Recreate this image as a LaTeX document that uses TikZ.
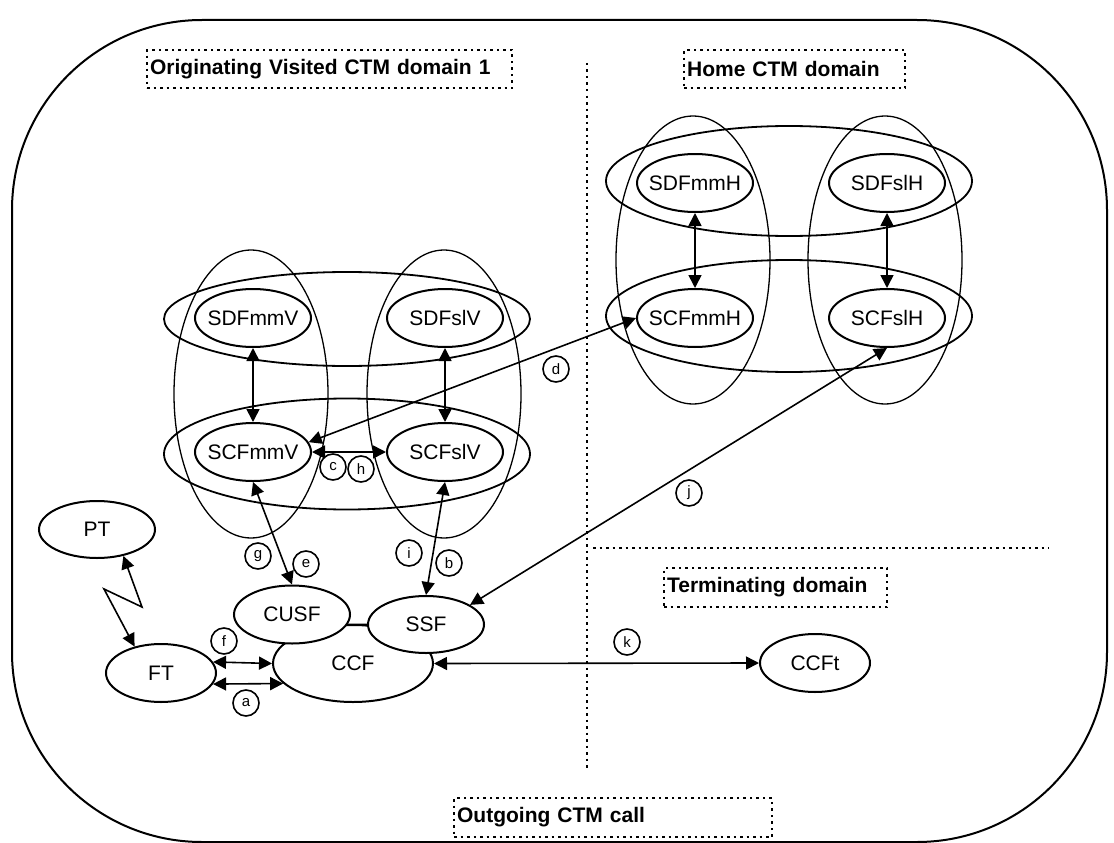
\documentclass[tikz,border=0pt]{standalone}
\usepackage{fontspec}
\setmainfont{Liberation Sans}
\usetikzlibrary{shapes.geometric,arrows.meta}
\newcommand\zw[1]{\makebox[0pt]{#1}}

\begin{document}
\begin{tikzpicture}[x=1pt,y=-1pt,
  fn/.style={ellipse, draw, line width=2pt, fill=white, inner sep=0pt,
             font=\fontsize{21}{24}\selectfont},
  sz/.style 2 args={minimum width=#1pt, minimum height=#2pt},
  grph/.style={ellipse, draw, inner sep=0pt, line width=1.8pt},
  grpv/.style={ellipse, draw, inner sep=0pt, line width=1.3pt},
  tag/.style={circle, draw, line width=1.6pt, minimum size=26pt, inner sep=0pt,
              font=\fontsize{15}{17}\selectfont},
  hdr/.style={draw, line width=2.2pt, dash pattern=on 2.5pt off 4pt,
              anchor=north west, inner xsep=3pt, inner ysep=0pt, align=left,
              font=\bfseries\fontsize{21}{24}\selectfont},
  link/.style={line width=1.6pt,
               {Triangle[length=13pt,width=13pt]}-{Triangle[length=13pt,width=13pt]}},
  sepline/.style={line width=2.2pt, dash pattern=on 2.5pt off 4pt},
]
\useasboundingbox (0,0) rectangle (1114,843);

% outer frame
\draw[line width=2pt, rounded corners=190pt] (12,20) rectangle (1107,842);

% domain separators
\coordinate (vtop) at (587,63);
\coordinate (vbot) at (587,768);
\coordinate (hl) at (593,548);
\coordinate (hr) at (1049,548);
\draw[sepline] (vtop) -- (vbot);
\draw[sepline] (hl) -- (hr);

% domain titles
\node[hdr, minimum width=365pt, minimum height=38pt, text width=359pt] (orig) at (146,49) {Originating Visited CTM domain 1};
\node[hdr, minimum width=221pt, minimum height=38pt, text width=215pt] (home) at (683,49) {Home CTM domain};
\node[hdr, minimum width=223pt, minimum height=39pt, text width=217pt] (term) at (663,567) {Terminating domain};
\node[hdr, minimum width=318pt, minimum height=39pt, text width=312pt] (outg) at (453,797) {Outgoing CTM call};

% grouping ellipses, visited domain
\node[grph, sz={366}{94}]  (gvtop) at (347,319) {};
\node[grph, sz={366}{111}] (gvbot) at (347,454) {};
\node[grpv, sz={154}{288}] (gvl) at (251,394) {};
\node[grpv, sz={154}{288}] (gvr) at (444,394) {};

% grouping ellipses, home domain
\node[grph, sz={366}{110}] (ghtop) at (789,181) {};
\node[grph, sz={366}{112}] (ghbot) at (789,316) {};
\node[grpv, sz={154}{288}] (ghl) at (693,260) {};
\node[grpv, sz={154}{288}] (ghr) at (885,260) {};

% functional entities
\node[fn, sz={116}{58}] (sdfmmv) at (253,318) {\zw{SDFmmV}};
\node[fn, sz={116}{58}] (sdfslv) at (445,318) {\zw{SDFslV}};
\node[fn, sz={116}{58}] (scfmmv) at (253,452) {\zw{SCFmmV}};
\node[fn, sz={116}{58}] (scfslv) at (445,452) {\zw{SCFslV}};
\node[fn, sz={116}{58}] (sdfmmh) at (695,183) {\zw{SDFmmH}};
\node[fn, sz={116}{58}] (sdfslh) at (887,183) {\zw{SDFslH}};
\node[fn, sz={116}{58}] (scfmmh) at (695,318) {\zw{SCFmmH}};
\node[fn, sz={116}{58}] (scfslh) at (887,318) {\zw{SCFslH}};

\node[fn, sz={116}{57}] (pt)   at (97,529.5) {\zw{PT}};
\node[fn, sz={110}{58}] (ft)   at (161,673) {\zw{FT}};
\node[fn, sz={160}{77}] (ccf)  at (353,663.5) {\zw{\raisebox{-4pt}{CCF}}};
\node[fn, sz={116}{58}] (cusf) at (292,614.5) {\zw{CUSF}};
\node[fn, sz={116}{57}] (ssf)  at (426,624.5) {\zw{SSF}};
\node[fn, sz={110}{58}] (ccft) at (815,663) {\zw{CCFt}};

% relationships
\draw[link] (sdfmmv) -- (scfmmv);
\draw[link] (sdfslv) -- (scfslv);
\draw[link] (sdfmmh) -- (scfmmh);
\draw[link] (sdfslh) -- (scfslh);
\draw[link] (scfmmv) -- (scfslv);
\draw[link] (scfmmv.10) -- (scfmmh.west);
\draw[link] (ssf.24) -- (scfslh.south);
\draw[link] (scfslv.south) -- (ssf.north);
\draw[link] (scfmmv.south) -- (cusf.north);
\draw[line width=1.6pt] (cusf.-10) -- (ssf.west);
\draw[link] (ft.12) -- (ccf.west);
\draw[link] (ft.-12) -- (ccf.196);
\draw[link] (ccf.east) -- (ccft.west);

% radio link PT - FT
\coordinate (z1) at (142,607);
\coordinate (z2) at (104,589);
\draw[link] (pt.-45) -- (z1) -- (z2) -- (ft.135);

% reference point tags
\node[tag] (tc) at (333,467) {c};
\node[tag] (th) at (361,469) {h};
\node[tag] (td) at (556,369) {d};
\node[tag] (tg) at (258,556) {g};
\node[tag] (te) at (306,564) {e};
\node[tag] (ti) at (409,553) {i};
\node[tag] (tb) at (449,563) {b};
\node[tag] (tf) at (224,641) {f};
\node[tag] (ta) at (246,703) {a};
\node[tag] (tj) at (689,493) {j};
\node[tag] (tk) at (627,642) {k};

\end{tikzpicture}
\end{document}
